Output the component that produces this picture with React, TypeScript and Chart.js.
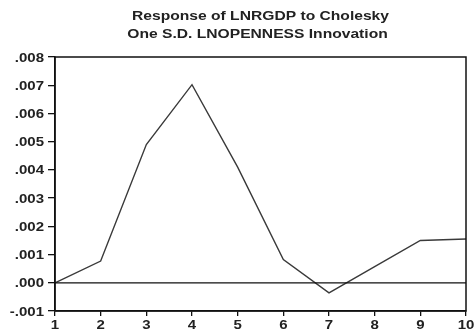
import React, { useEffect, useRef } from "react";
import { Chart, registerables } from "chart.js";

Chart.register(...registerables);

const periods = ["1", "2", "3", "4", "5", "6", "7", "8", "9", "10"];
const response = [0.0, 0.00077, 0.0049, 0.00702, 0.0041, 0.00082, -0.00036, 0.00057, 0.0015, 0.00155];
const titleLines = ["Response of LNRGDP to Cholesky", "One S.D. LNOPENNESS Innovation"];
const yMin = -0.001;
const yMax = 0.008;
const yStep = 0.001;

const FONT = "'Liberation Sans', Arial, sans-serif";
const STRETCH = 1.25;

const fmt = (v: number) => {
  const s = Math.abs(v).toFixed(3).replace(/^0/, "");
  return (v < -1e-9 ? "-" : "") + s;
};

function stretchedText(ctx: CanvasRenderingContext2D, text: string, x: number, y: number, align: "left" | "right" | "center", sx: number) {
  const w = ctx.measureText(text).width * sx;
  let left = x;
  if (align === "right") left = x - w;
  else if (align === "center") left = x - w / 2;
  ctx.save();
  ctx.translate(left, y);
  ctx.scale(sx, 1);
  ctx.textAlign = "left";
  ctx.fillText(text, 0, 0);
  ctx.restore();
}

const decor = {
  id: "decor",
  afterDatasetsDraw(chart: any) {
    const { ctx, chartArea, scales } = chart;
    ctx.save();
    ctx.strokeStyle = "#111";
    ctx.lineWidth = 1.5;
    ctx.strokeRect(chartArea.left, chartArea.top, chartArea.right - chartArea.left, chartArea.bottom - chartArea.top);
    const y0 = scales.y.getPixelForValue(0);
    ctx.lineWidth = 1.3;
    ctx.beginPath();
    ctx.moveTo(chartArea.left, y0);
    ctx.lineTo(chartArea.right, y0);
    ctx.stroke();

    ctx.fillStyle = "#222";
    ctx.textBaseline = "alphabetic";
    // title
    ctx.font = `bold 12px ${FONT}`;
    const cx = (chartArea.left + chartArea.right) / 2;
    const w1 = ctx.measureText(titleLines[0]).width;
    const tsx = 257 / w1;
    stretchedText(ctx, titleLines[0], cx, 20, "center", tsx);
    stretchedText(ctx, titleLines[1], cx - 3, 37.5, "center", tsx);

    // y tick labels
    ctx.font = `bold 12px ${FONT}`;
    scales.y.ticks.forEach((t: any, i: number) => {
      const py = scales.y.getPixelForTick(i);
      stretchedText(ctx, fmt(t.value), chartArea.left - 11, py + 4.5, "right", STRETCH);
    });
    // x tick labels
    scales.x.ticks.forEach((t: any, i: number) => {
      const px = scales.x.getPixelForTick(i);
      stretchedText(ctx, String(periods[i]), px, chartArea.bottom + 18, "center", STRETCH);
    });
    ctx.restore();
  },
};

export default function App() {
  const ref = useRef<HTMLCanvasElement>(null);
  useEffect(() => {
    document.body.style.margin = "0";
    const chart = new Chart(ref.current!, {
      type: "line",
      data: {
        labels: periods,
        datasets: [
          {
            data: response,
            borderColor: "#3a3a3a",
            borderWidth: 1.4,
            pointRadius: 0,
            tension: 0,
          },
        ],
      },
      options: {
        animation: false,
        responsive: false,
        layout: { padding: { top: 57, right: 9, left: 0, bottom: 0 } },
        plugins: {
          legend: { display: false },
          tooltip: { enabled: false },
          title: { display: false },
        },
        scales: {
          x: {
            offset: false,
            grid: { display: true, drawOnChartArea: false, drawTicks: true, tickLength: 5, color: "#111", lineWidth: 1.3 },
            border: { display: true, color: "#111", width: 1.5 },
            ticks: { display: false, autoSkip: false },
            afterFit: (s: any) => {
              s.height = 25;
            },
          },
          y: {
            min: yMin,
            max: yMax,
            grid: { display: true, drawOnChartArea: false, drawTicks: true, tickLength: 7, color: "#111", lineWidth: 1.3 },
            border: { display: true, color: "#111", width: 1.5 },
            ticks: { display: false, stepSize: yStep },
            afterFit: (s: any) => {
              s.width = 55;
            },
          },
        },
      },
      plugins: [decor],
    });
    return () => chart.destroy();
  }, []);
  return (
    <div style={{ width: 475, height: 336, background: "#fff" }}>
      <canvas ref={ref} width={475} height={336} />
    </div>
  );
}
